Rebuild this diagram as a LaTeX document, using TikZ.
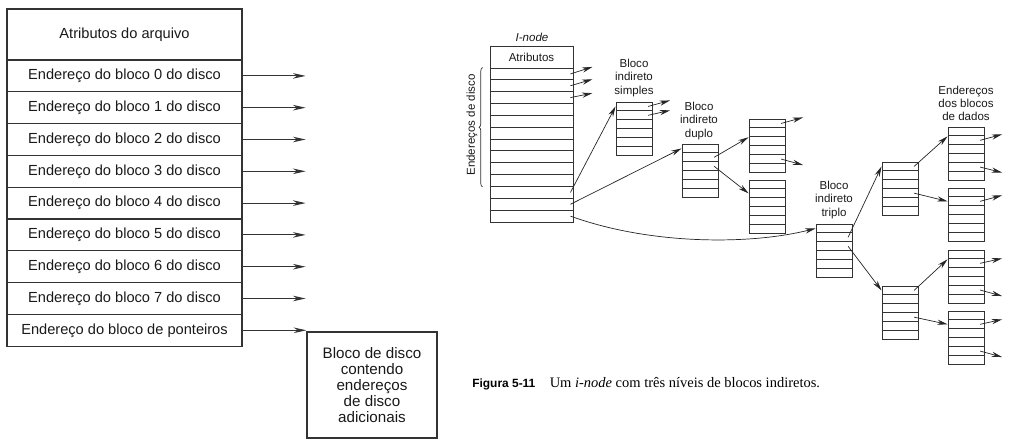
\documentclass[tikz,border=0pt]{standalone}
\usepackage{fontspec}
\setmainfont{Liberation Serif}
\setsansfont{Liberation Sans}
\usetikzlibrary{arrows.meta,decorations.pathreplacing}

\tikzset{
  cell/.style={draw=black!80, line width=0.9pt, minimum width=58.75mm, minimum height=7.95mm,
    inner sep=0pt, text=black!90, font=\sffamily\fontsize{10.4}{12}\selectfont},
  slot/.style={draw=black!80, line width=0.65pt, minimum width=20.75mm, minimum height=2.96mm,
    inner sep=0pt, text=black!90, font=\sffamily\fontsize{8.2}{9.3}\selectfont},
  blk/.style={draw=black!80, line width=0.65pt, minimum width=9mm, minimum height=2.225mm, inner sep=0pt},
  lbl/.style={font=\sffamily\fontsize{8.2}{9.3}\selectfont, text=black!90, align=center, inner sep=0pt},
  ptr/.style={-{Stealth[length=3.2mm,width=1.4mm]}, line width=0.7pt, draw=black!80},
  sptr/.style={-{Stealth[length=2.6mm,width=1.3mm]}, line width=0.5pt, draw=black!85},
}

\begin{document}
\begin{tikzpicture}[x=0.25mm, y=-0.25mm]
  \useasboundingbox (0,0) rectangle (1014,448);

  % tabela do i-node simples
  \node[cell, minimum height=12.75mm] (attr) at (124.5,34.5) {Atributos do arquivo};
  \foreach \i in {0,...,7}
    \node[cell] (end\i) at (124.5,75.9+31.8*\i) {Endereço do bloco \i{} do disco};
  \node[cell] (pont) at (124.5,330.3) {Endereço do bloco de ponteiros};
  \foreach \i in {0,...,7}
    \draw[ptr] (end\i.east) -- ++(63,0);
  \node[cell, minimum width=32.5mm, minimum height=26.5mm, align=center,
    font=\sffamily\fontsize{10.8}{11.4}\selectfont] (disco) at (372,385)
    {Bloco de disco\\contendo\\endereços\\de disco\\adicionais};
  \draw[ptr] (pont.east) -- (pont.east -| disco.west);

  % i-node com blocos indiretos
  \node[lbl, font=\sffamily\itshape\fontsize{8.2}{9.3}\selectfont] (inlbl) at (532,37) {I-node};
  \node[slot, minimum height=5.5mm] (iattr) at (531.5,57) {Atributos};
  \foreach \i in {1,...,13}
    \node[slot] (in\i) at (531.5,62.075+11.85*\i) {};
  \draw[black!80, line width=0.5pt, decorate, decoration={brace, amplitude=2.5pt}]
    ([xshift=-1.75mm]in10.south west) -- ([xshift=-1.75mm]in1.north west);
  \node[lbl, rotate=90] (edlbl) at (472,125) {Endereços de disco};

  \foreach \n/\x/\y in {simp/634/102, dupl/700/144, duplA/767/119, duplB/767/180,
      trip/834/224, tripA/900/162, tripB/900/286,
      datA/966/127, datB/966/188, datC/966/250, datD/966/311}
    \foreach \j in {1,...,6}
      \node[blk] (\n\j) at (\x,\y+8.9*\j-4.45) {};

  \node[lbl] (simplbl) at (634,78) {Bloco\\indireto\\simples};
  \node[lbl] (dupllbl) at (699,121) {Bloco\\indireto\\duplo};
  \node[lbl] (triplbl) at (834,200) {Bloco\\indireto\\triplo};
  \node[lbl] (datlbl) at (966,103) {Endereços\\dos blocos\\de dados};

  % ponteiros
  \draw[sptr] ([xshift=-0.75mm]in1.east) -- ++(22,-7);
  \draw[sptr] ([xshift=-0.75mm]in2.east) -- ++(22,-6.5);
  \draw[sptr] ([xshift=-0.75mm]in3.east) -- ++(22,-4.5);
  \draw[sptr] ([xshift=-0.75mm]in11.east) -- (simp1.west);
  \draw[sptr] ([xshift=-0.75mm]in12.east) -- (dupl1.west);
  \draw[sptr] ([xshift=-0.75mm]in13.east) .. controls (650,245) and (750,245) .. (trip1.west);

  \draw[sptr] ([xshift=-1.1mm]simp1.east) -- ++(22,-6);
  \draw[sptr] ([xshift=-1.1mm]simp2.east) -- ++(22,-5);

  \draw[sptr] ([xshift=-1.1mm]dupl2.east) -- (duplA2.south west);
  \draw[sptr] ([xshift=-1.1mm]dupl3.east) -- (duplB2.west);
  \draw[sptr] ([xshift=-1.1mm]duplA1.east) -- ++(22,-6);
  \draw[sptr] ([xshift=-1.1mm]duplA5.east) -- ++(22,6);

  \draw[sptr] ([xshift=-1.1mm]trip2.east) -- (tripA1.west);
  \draw[sptr] ([xshift=-1.1mm]trip3.east) -- (tripB1.west);
  \draw[sptr] ([xshift=-1.1mm]tripA1.east) -- (datA1.south west);
  \draw[sptr] ([xshift=-1.1mm]tripA4.east) -- (datB2.west);
  \draw[sptr] ([xshift=-1.1mm]tripB1.east) -- (datC1.south west);
  \draw[sptr] ([xshift=-1.1mm]tripB4.east) -- (datD2.west);

  \draw[sptr] ([xshift=-1.1mm]datA2.east) -- ++(22,-6);
  \draw[sptr] ([xshift=-1.1mm]datA5.east) -- ++(22,5.5);
  \draw[sptr] ([xshift=-1.1mm]datB2.east) -- ++(22,-6);
  \draw[sptr] ([xshift=-1.1mm]datC2.east) -- ++(22,-5);
  \draw[sptr] ([xshift=-1.1mm]datC5.east) -- ++(22,6);
  \draw[sptr] ([xshift=-1.1mm]datD2.east) -- ++(22,-5);
  \draw[sptr] ([xshift=-1.1mm]datD5.east) -- ++(22,6);

  % legenda
  \node[anchor=base west, inner sep=0pt] (cap) at (472,388)
    {{\sffamily\bfseries\fontsize{8.5}{10}\selectfont Figura 5-11}\hspace{3.6mm}%
     {\fontsize{10.3}{12}\selectfont Um \textit{i-node} com três níveis de blocos indiretos.}};
\end{tikzpicture}
\end{document}
